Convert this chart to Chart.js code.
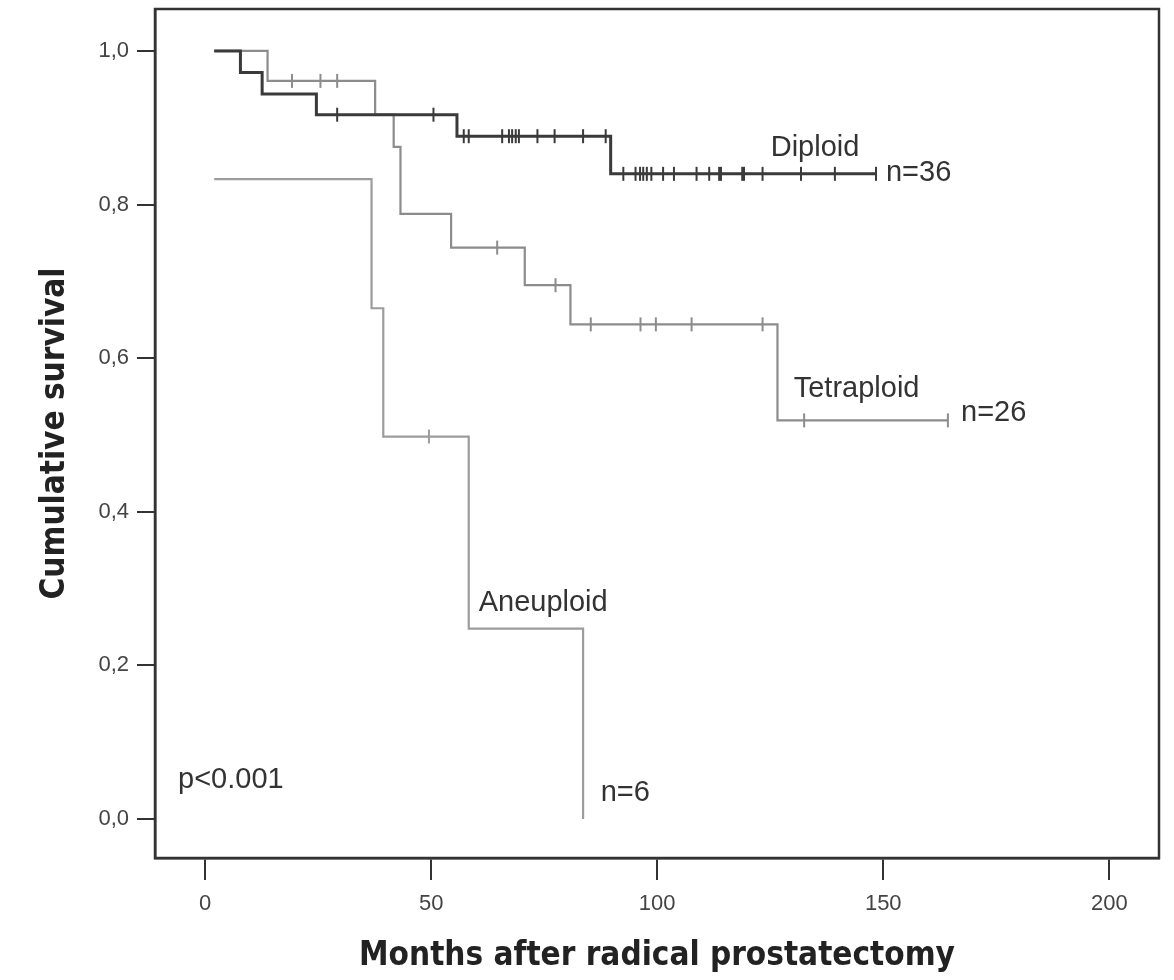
<!DOCTYPE html>
<html>
<head>
<meta charset="utf-8">
<script src="https://cdn.jsdelivr.net/npm/chart.js@4/dist/chart.umd.min.js"></script>
<style>
  html, body { margin: 0; padding: 0; background: #fff; }
  #wrap { width: 1174px; height: 980px; }
</style>
</head>
<body>
<div id="wrap"><canvas id="km" width="1174" height="980"></canvas></div>
<script>
// step points: time (months) and survival after the event at that time
const diploidTimes = [2, 7.8, 12.6, 24.6, 55.7, 89.7, 148.4];
const diploidSurv = [1.0, 0.972, 0.944, 0.917, 0.889, 0.840, 0.840];
const diploidCensored = [29.2, 50.5, 57.2, 58.3, 65.7, 67.2, 67.9, 68.7, 69.4, 73.5, 77.3, 83.6, 88.6,
  92.5, 95.2, 96.2, 96.9, 97.7, 98.7, 101.3, 103.7, 108.7, 111.5, 113.7, 114.1, 118.8, 119.2, 123.3,
  131.8, 139.3, 148.4];

const tetraTimes = [2, 13.8, 37.6, 41.7, 43.2, 54.4, 70.7, 80.8, 126.6, 164.3];
const tetraSurv = [1.0, 0.961, 0.917, 0.875, 0.788, 0.744, 0.695, 0.644, 0.519, 0.519];
const tetraCensored = [19.2, 25.5, 29.2, 64.6, 77.5, 85.3, 96.3, 99.7, 107.6, 123.3, 132.5, 164.3];

const aneuTimes = [2, 36.8, 39.4, 58.3, 83.6];
const aneuSurv = [0.833, 0.665, 0.498, 0.248, 0.0];
const aneuCensored = [49.5];

const xTickValues = [0, 50, 100, 150, 200];
const yTickValues = [0, 0.2, 0.4, 0.6, 0.8, 1.0];
const yTickLabels = ["0,0", "0,2", "0,4", "0,6", "0,8", "1,0"];

// text placed on the plot (data coordinates)
const notes = [
  { text: "Diploid", x: 125.1, y: 0.874 },
  { text: "n=36", x: 150.6, y: 0.841 },
  { text: "Tetraploid", x: 130.2, y: 0.560 },
  { text: "n=26", x: 167.2, y: 0.528 },
  { text: "Aneuploid", x: 60.5, y: 0.281 },
  { text: "n=6", x: 87.5, y: 0.034 },
  { text: "p<0.001", x: -6.0, y: 0.051 }
];

const toPoints = (xs, ys) => xs.map((x, i) => ({ x, y: ys[i] }));

// survival value of a step curve at time t (used to place censor marks on the curve)
function survAt(times, surv, t) {
  let s = surv[0];
  for (let i = 0; i < times.length; i++) {
    if (times[i] <= t) s = surv[i];
  }
  return s;
}
const censorPoints = (times, surv, cens) => cens.map(t => ({ x: t, y: survAt(times, surv, t) }));

const frame = {
  id: "frame",
  afterDatasetsDraw(chart) {
    const { ctx, chartArea: a } = chart;
    ctx.save();
    ctx.strokeStyle = "#333";
    ctx.lineWidth = 2.5;
    ctx.strokeRect(a.left, a.top, a.right - a.left, a.bottom - a.top);
    ctx.restore();
  }
};

const labels = {
  id: "labels",
  afterDatasetsDraw(chart) {
    const { ctx, scales } = chart;
    ctx.save();
    ctx.fillStyle = "#333";
    ctx.font = "29px 'Liberation Sans', Arial, sans-serif";
    ctx.textAlign = "left";
    ctx.textBaseline = "middle";
    notes.forEach(n => {
      ctx.fillText(n.text, scales.x.getPixelForValue(n.x), scales.y.getPixelForValue(n.y));
    });
    ctx.restore();
  }
};

const lineStyle = (color, width) => ({
  borderColor: color,
  borderWidth: width,
  pointRadius: 0,
  stepped: "before",
  fill: false,
  tension: 0
});
const censorStyle = (color, r) => ({
  type: "scatter",
  borderColor: color,
  backgroundColor: color,
  borderWidth: 2,
  pointStyle: "line",
  rotation: 90,
  pointRadius: r,
  showLine: false
});

const titleFont = { family: "'Liberation Sans Narrow', 'DejaVu Sans Condensed', Arial, sans-serif", size: 33, weight: "bold" };

new Chart(document.getElementById("km"), {
  type: "line",
  data: {
    datasets: [
      { label: "Diploid", data: toPoints(diploidTimes, diploidSurv), ...lineStyle("#3a3a3a", 3) },
      { label: "Diploid censored", data: censorPoints(diploidTimes, diploidSurv, diploidCensored), ...censorStyle("#3a3a3a", 7) },
      { label: "Tetraploid", data: toPoints(tetraTimes, tetraSurv), ...lineStyle("#8c8c8c", 2.2) },
      { label: "Tetraploid censored", data: censorPoints(tetraTimes, tetraSurv, tetraCensored), ...censorStyle("#8c8c8c", 7) },
      { label: "Aneuploid", data: toPoints(aneuTimes, aneuSurv), ...lineStyle("#9c9c9c", 2.2) },
      { label: "Aneuploid censored", data: censorPoints(aneuTimes, aneuSurv, aneuCensored), ...censorStyle("#9c9c9c", 7) }
    ]
  },
  options: {
    responsive: false,
    animation: false,
    layout: { padding: { left: 0, top: 8, right: 15, bottom: 0 } },
    plugins: { legend: { display: false }, tooltip: { enabled: false } },
    scales: {
      x: {
        type: "linear",
        min: -11.1,
        max: 211,
        afterBuildTicks: s => { s.ticks = xTickValues.map(v => ({ value: v })); },
        afterFit: s => { s.height = 122; s.paddingLeft = 0; s.paddingRight = 0; },
        ticks: {
          color: "#444",
          font: { family: "'Liberation Sans', Arial, sans-serif", size: 22 },
          padding: 11,
          maxRotation: 0
        },
        grid: { drawOnChartArea: false, drawTicks: true, tickLength: 22, color: "#333", lineWidth: 2 },
        border: { display: true, color: "#333", width: 2.5 },
        title: {
          display: true,
          text: "Months after radical prostatectomy",
          color: "#222",
          font: titleFont,
          padding: { top: 0, bottom: 4 }
        }
      },
      y: {
        type: "linear",
        min: -0.0507,
        max: 1.0546,
        afterBuildTicks: s => { s.ticks = yTickValues.map(v => ({ value: v })); },
        afterFit: s => { s.width = 155; s.paddingTop = 0; s.paddingBottom = 0; },
        ticks: {
          color: "#444",
          font: { family: "'Liberation Sans', Arial, sans-serif", size: 22 },
          padding: 8,
          callback: (v, i) => yTickLabels[i]
        },
        grid: { drawOnChartArea: false, drawTicks: true, tickLength: 18, color: "#333", lineWidth: 2 },
        border: { display: true, color: "#333", width: 2.5 },
        title: {
          display: true,
          text: "Cumulative survival",
          color: "#222",
          font: titleFont,
          padding: { top: 36, bottom: 0 }
        }
      }
    }
  },
  plugins: [frame, labels]
});
</script>
</body>
</html>
